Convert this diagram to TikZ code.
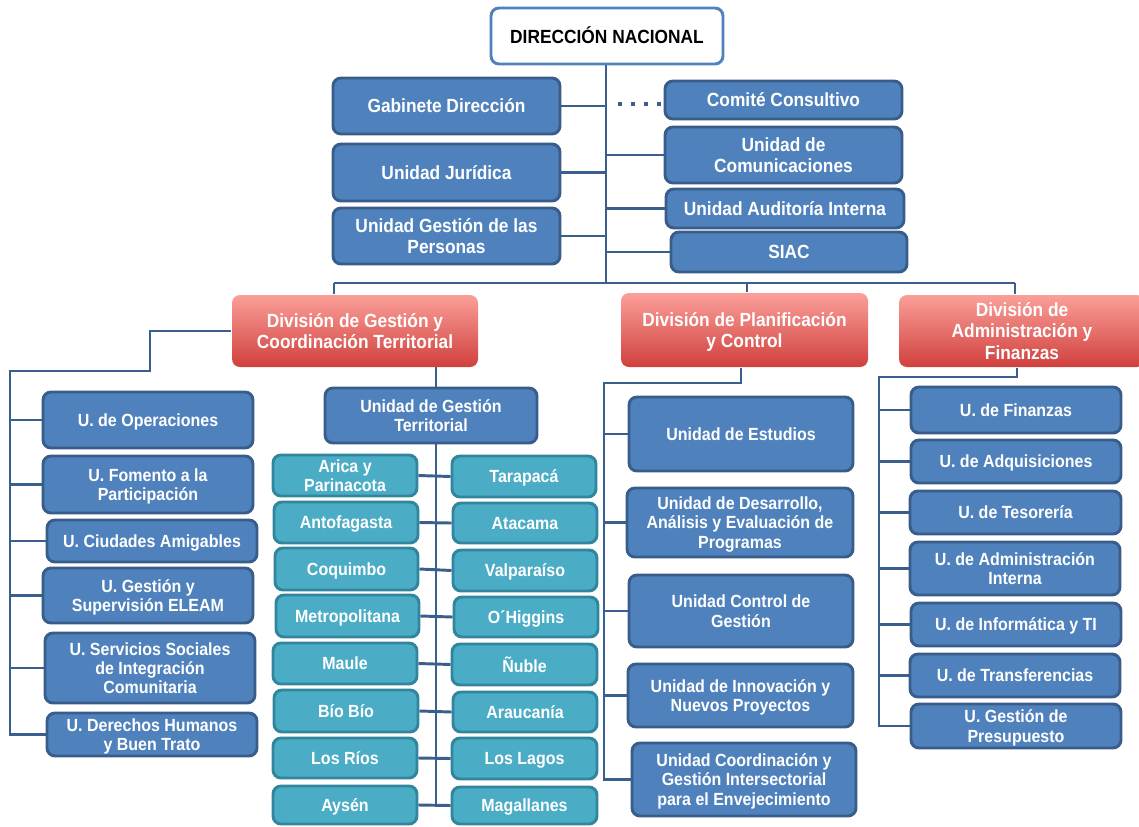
\documentclass[tikz,border=0pt]{standalone}
\usepackage{fontspec}
\usepackage{graphicx}
\setmainfont{Liberation Sans}
\usetikzlibrary{backgrounds}
\definecolor{bfill}{HTML}{4F81BD}
\definecolor{bdraw}{HTML}{385D8A}
\definecolor{tfill}{HTML}{4BACC6}
\definecolor{tdraw}{HTML}{31859C}
\definecolor{rtop}{HTML}{FB9F99}
\definecolor{rbot}{HTML}{D0403D}
\definecolor{lcol}{HTML}{3A5F8E}
\definecolor{dnb}{HTML}{4F81BD}
\newcommand\bx[7]{%
  \node[#1, minimum width={(#5-#3)*0.75pt}, minimum height={(#6-#4)*0.75pt}]
    (#2) at ({(#3+#5)/2},{(#4+#6)/2})
    {\raisebox{-2pt}[\height][\depth]{\scalebox{1}[1.1]{\begin{tabular}{@{}c@{}}#7\end{tabular}}}};}
\tikzset{
  basebox/.style={rounded corners=6pt, align=center, inner sep=1pt, line width=2.2pt},
  small/.style={font=\bfseries\fontsize{12}{13}\selectfont},
  big/.style={font=\bfseries\fontsize{13}{14.5}\selectfont},
  bluebox/.style={basebox, small, fill=bfill, draw=bdraw, text=white},
  bluebig/.style={basebox, big, fill=bfill, draw=bdraw, text=white},
  tealbox/.style={basebox, small, fill=tfill, draw=tdraw, text=white},
  redbox/.style={basebox, big, top color=rtop, bottom color=rbot, draw=none, text=white},
  whitebox/.style={basebox, big, fill=white, draw=dnb, text=black},
  conn/.style={draw=lcol, line width=2.2pt},
  dotline/.style={draw=lcol, line width=3pt, dash pattern=on 3pt off 6.75pt}
}
\begin{document}
\begin{tikzpicture}[x=0.75pt,y=-0.75pt]
\useasboundingbox (0,0) rectangle (1139,826);
% top level
\bx{whitebox}{dn}{491}{8}{723}{64}{DIRECCIÓN NACIONAL}
\bx{bluebig}{gab}{333}{78}{560}{134}{Gabinete Dirección}
\bx{bluebig}{jur}{333}{144}{560}{201}{Unidad Jurídica}
\bx{bluebig}{per}{333}{208}{560}{264}{Unidad Gestión de las\\Personas}
\bx{bluebig}{com}{665}{81}{902}{119}{Comité Consultivo}
\bx{bluebig}{ucom}{665}{127}{902}{183}{Unidad de\\Comunicaciones}
\bx{bluebig}{aud}{666}{189}{904}{228}{Unidad Auditoría Interna}
\bx{bluebig}{siac}{671}{232}{907}{272}{SIAC}
% divisions
\bx{redbox}{dgc}{232}{295}{478}{367}{División de Gestión y\\Coordinación Territorial}
\bx{redbox}{dpc}{621}{293}{868}{367}{División de Planificación\\y Control}
\bx{redbox}{daf}{899}{295}{1145}{367}{División de\\Administración y\\Finanzas}
% left column
\bx{bluebox}{ope}{43}{392}{253}{448}{U. de Operaciones}
\bx{bluebox}{fom}{43}{456}{253}{513}{U. Fomento a la\\Participación}
\bx{bluebox}{ciu}{47}{520}{257}{562}{U. Ciudades Amigables}
\bx{bluebox}{ele}{43}{568}{253}{623}{U. Gestión y\\Supervisión ELEAM}
\bx{bluebox}{sss}{45}{633}{255}{703}{U. Servicios Sociales\\de Integración\\Comunitaria}
\bx{bluebox}{ddh}{47}{713}{257}{756}{U. Derechos Humanos\\y Buen Trato}
% territorial
\bx{bluebox}{ugt}{325}{388}{537}{443}{Unidad de Gestión\\Territorial}
\bx{tealbox}{ari}{273}{455}{417}{496}{Arica y\\Parinacota}
\bx{tealbox}{tar}{452}{456}{596}{497}{Tarapacá}
\bx{tealbox}{ant}{274}{502}{418}{543}{Antofagasta}
\bx{tealbox}{ata}{453}{503}{597}{543}{Atacama}
\bx{tealbox}{coq}{275}{548}{418}{590}{Coquimbo}
\bx{tealbox}{val}{453}{550}{597}{591}{Valparaíso}
\bx{tealbox}{met}{276}{595}{419}{637}{Metropolitana}
\bx{tealbox}{ohi}{454}{597}{598}{637}{O´Higgins}
\bx{tealbox}{mau}{273}{643}{417}{684}{Maule}
\bx{tealbox}{nub}{452}{644}{597}{685}{Ñuble}
\bx{tealbox}{bio}{274}{690}{418}{732}{Bío Bío}
\bx{tealbox}{ara}{453}{692}{597}{732}{Araucanía}
\bx{tealbox}{rio}{273}{738}{417}{778}{Los Ríos}
\bx{tealbox}{lag}{452}{738}{597}{779}{Los Lagos}
\bx{tealbox}{ays}{273}{786}{417}{824}{Aysén}
\bx{tealbox}{mag}{452}{787}{597}{824}{Magallanes}
% planificacion
\bx{bluebox}{est}{629}{397}{853}{471}{Unidad de Estudios}
\bx{bluebox}{des}{627}{488}{853}{557}{Unidad de Desarrollo,\\Análisis y Evaluación de\\Programas}
\bx{bluebox}{cdg}{629}{575}{853}{647}{Unidad Control de\\Gestión}
\bx{bluebox}{inn}{628}{664}{853}{727}{Unidad de Innovación y\\Nuevos Proyectos}
\bx{bluebox}{coo}{632}{743}{856}{816}{Unidad Coordinación y\\Gestión Intersectorial\\para el Envejecimiento}
% administracion
\bx{bluebox}{fin}{911}{387}{1121}{433}{U. de Finanzas}
\bx{bluebox}{adq}{911}{440}{1121}{483}{U. de Adquisiciones}
\bx{bluebox}{tes}{910}{491}{1121}{534}{U. de Tesorería}
\bx{bluebox}{adi}{910}{542}{1120}{595}{U. de Administración\\Interna}
\bx{bluebox}{inf}{911}{603}{1121}{646}{U. de Informática y TI}
\bx{bluebox}{tra}{910}{654}{1120}{697}{U. de Transferencias}
\bx{bluebox}{pre}{911}{704}{1121}{748}{U. Gestión de\\Presupuesto}
% coordinates
\coordinate (trunk) at (606,283);
\coordinate (busL) at (334,283);
\coordinate (busM) at (747,283);
\coordinate (busR) at (1015,283);
\coordinate (dotstart) at (618,104);
\coordinate (lk1) at (150,371);
\coordinate (lk2) at (10,371);
\coordinate (gt1) at (436,367);
\coordinate (pk1) at (741,383);
\coordinate (pk2) at (604,383);
\coordinate (ak1) at (1017,377);
\coordinate (ak2) at (879,377);
\coordinate (rgend) at (436,807);
\begin{pgfonlayer}{background}
  % trunk and bus
  \draw[conn] (dn.south -| trunk) -- (trunk);
  \draw[conn] (busL) -- (busR);
  \draw[conn] (busL) -- (busL |- dgc.north);
  \draw[conn] (busM) -- (busM |- dpc.north);
  \draw[conn] (busR) -- (busR |- daf.north);
  % staff units
  \foreach \n in {gab,jur,per} \draw[conn] (\n.east) -- (\n.east -| trunk);
  \foreach \n in {ucom,aud,siac} \draw[conn] (\n.west) -- (\n.west -| trunk);
  \draw[dotline] (dotstart) -- (dotstart -| com.west);
  % division gestion: left column
  \draw[conn] (dgc.west) -| (lk1) -- (lk2) |- (ddh.west);
  \foreach \n in {ope,fom,ciu,ele,sss} \draw[conn] (\n.west -| lk2) -- (\n.west);
  % division gestion: territorial
  \draw[conn] (gt1) -- (gt1 |- ugt.north);
  \draw[conn] (ugt.south -| rgend) -- (rgend);
  \foreach \a/\b in {ari/tar,ant/ata,coq/val,met/ohi,mau/nub,bio/ara,rio/lag,ays/mag}
    \draw[conn] (\a.east) -- (\b.west);
  % planificacion
  \draw[conn] (dpc.south -| pk1) -- (pk1) -- (pk2) |- (coo.west);
  \foreach \n in {est,des,cdg,inn} \draw[conn] (\n.west -| pk2) -- (\n.west);
  % administracion
  \draw[conn] (daf.south -| ak1) -- (ak1) -- (ak2) |- (pre.west);
  \foreach \n in {fin,adq,tes,adi,inf,tra} \draw[conn] (\n.west -| ak2) -- (\n.west);
\end{pgfonlayer}
\end{tikzpicture}
\end{document}
